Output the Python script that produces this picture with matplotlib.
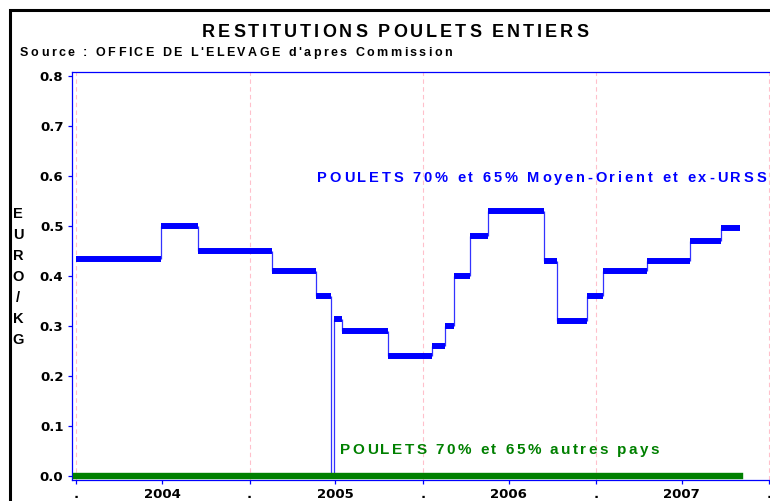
import matplotlib
matplotlib.use('Agg')
import matplotlib.pyplot as plt
import matplotlib.dates as mdates
from matplotlib import font_manager
from matplotlib.ft2font import FT2Font
from matplotlib.patches import Rectangle
import pandas as pd

# restitution levels for the Moyen-Orient / ex-URSS destinations (EURO/KG)
change_dates = ['2004-01-01', '2004-06-28', '2004-09-15', '2005-02-18', '2005-05-22',
                '2005-06-22', '2005-06-27', '2005-07-15', '2005-10-20', '2006-01-21',
                '2006-02-17', '2006-03-08', '2006-04-11', '2006-05-19', '2006-09-14',
                '2006-10-11', '2006-12-13', '2007-01-16', '2007-04-18', '2007-07-18',
                '2007-09-21']
mo_values = [0.435, 0.500, 0.450, 0.410, 0.360,
             0.000, 0.315, 0.290, 0.240, 0.260,
             0.300, 0.400, 0.480, 0.530, 0.430,
             0.310, 0.360, 0.410, 0.430, 0.470,
             0.495]
end_date = '2007-10-31'

# other countries: zero over the whole period
other_dates = ['2004-01-01', '2007-10-31']
other_values = [0.0, 0.0]

tick_dates = ['2004-01-01', '2004-07-01', '2005-01-01', '2005-07-01', '2006-01-01',
              '2006-07-01', '2007-01-01', '2007-07-01', '2008-01-01']
tick_labels = ['.', '2004', '.', '2005', '.', '2006', '.', '2007', '.']
year_starts = ['2004-01-01', '2005-01-01', '2006-01-01', '2007-01-01', '2008-01-01']
y_ticks = [0.0, 0.1, 0.2, 0.3, 0.4, 0.5, 0.6, 0.7, 0.8]

W, H = 770, 501


def spaced_text(fig, text, x0, x1, baseline, size, color):
    # letters spread between pixel x0 and x1, like the SAS output
    prop = font_manager.FontProperties(family='Liberation Sans', weight='bold', size=size)
    font = FT2Font(font_manager.findfont(prop))
    font.set_size(size, fig.dpi)
    adv = [font.load_char(ord(c)).linearHoriAdvance / 65536 for c in text]
    gap = (x1 - x0 - sum(adv)) / (len(text) - 1)
    x = x0
    for c, a in zip(text, adv):
        if c != ' ':
            fig.text(x / W, 1 - baseline / H, c, fontproperties=prop, color=color,
                     ha='left', va='baseline')
        x += a + gap


fig = plt.figure(figsize=(W / 100, H / 100), dpi=100)
ax = fig.add_axes([72 / W, 21 / H, 699 / W, 408.5 / H])

starts = pd.to_datetime(change_dates)
ends = list(starts[1:]) + [pd.Timestamp(end_date)]

for d in pd.to_datetime(year_starts):
    ax.axvline(d, color='#ffc0cb', lw=0.8, dashes=(4, 3), zorder=1)

ax.vlines(starts[1:], mo_values[:-1], mo_values[1:], colors='blue', lw=0.9, alpha=0.8, zorder=2)
ax.hlines(mo_values, starts, ends, colors='blue', lw=4.3, zorder=3)
ax.plot(pd.to_datetime(other_dates), other_values, color='#008000', lw=4.6, zorder=4)

ax.set_ylim(-0.007, 0.8082)
ax.set_xlim(mdates.date2num(pd.Timestamp('2003-12-23 14:00')),
            mdates.date2num(pd.Timestamp('2008-01-05 05:00')))
ax.set_yticks(y_ticks)
ax.set_yticklabels([f'{v:.1f}' for v in y_ticks], fontsize=9.5, fontweight='bold')
ax.set_xticks(pd.to_datetime(tick_dates))
ax.set_xticklabels(tick_labels, fontsize=9.5, fontweight='bold')
ax.tick_params(axis='both', color='blue', length=3.2, width=0.9, pad=3)
ax.tick_params(axis='x', pad=2.5)

for side in ['left', 'top', 'bottom']:
    ax.spines[side].set_color('blue')
    ax.spines[side].set_linewidth(0.9)
ax.spines['right'].set_visible(False)

spaced_text(fig, 'RESTITUTIONS POULETS ENTIERS', 202, 588, 37, 13, 'black')
spaced_text(fig, "Source : OFFICE DE L'ELEVAGE d'apres Commission", 20, 452, 56, 9, 'black')
spaced_text(fig, 'POULETS 70% et 65% Moyen-Orient et ex-URSS', 317, 766, 182, 10.5, 'blue')
spaced_text(fig, 'POULETS 70% et 65% autres pays', 340, 659, 454, 11, '#008000')

for i, ch in enumerate('EURO/KG'):
    fig.text(18 / W, 1 - (213.7 + i * 21.1) / H, ch, fontsize=10.5, fontweight='bold',
             family='Liberation Sans', ha='center', va='center')

fig.add_artist(Rectangle((9.5 / W, -0.1), 1.2, 1.1 - 9.5 / H, transform=fig.transFigure,
                         fill=False, lw=2.2, edgecolor='black'))

fig.savefig('out.png', dpi=100)
